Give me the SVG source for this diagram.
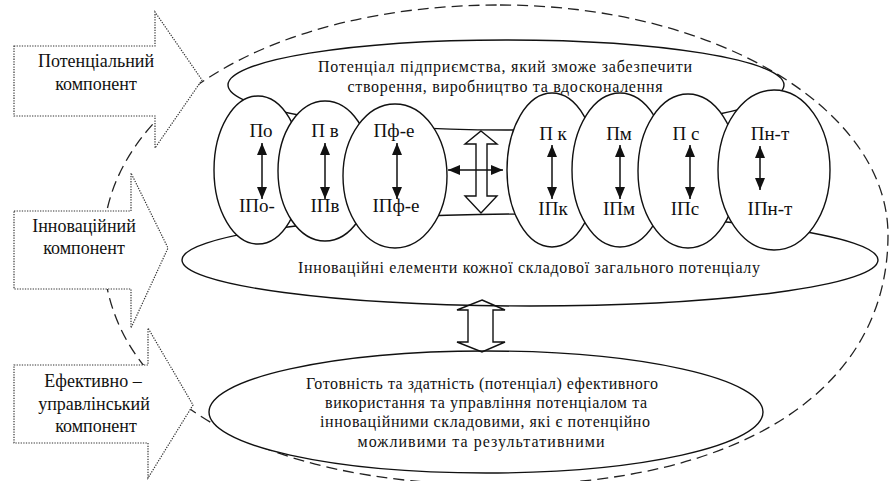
<svg xmlns="http://www.w3.org/2000/svg" width="889" height="481" viewBox="0 0 889 481">
  <defs>
    <style>
      .dash{fill:none;stroke:#222;stroke-width:1.3;stroke-dasharray:11 6}
      .solid{fill:#fff;stroke:#111;stroke-width:1.4}
      .dot{fill:#fff;stroke:#333;stroke-width:1.2;stroke-dasharray:1.3 1.3}
      text{font-family:'Liberation Serif','DejaVu Serif','Times New Roman',serif;fill:#111;text-anchor:middle}
      .lbl{font-size:19px}
      .arr{font-size:18px}
      .body{font-size:16px}
      .ln{stroke:#111;stroke-width:1.5;fill:none}
      .blk{fill:none;stroke:#111;stroke-width:1.4;stroke-linejoin:miter}
    </style>
    <marker id="ah" viewBox="0 0 12 10" refX="12" refY="5" markerWidth="12" markerHeight="10" markerUnits="userSpaceOnUse" orient="auto-start-reverse">
      <path d="M0,0 L12,5 L0,10 Z" fill="#111"/>
    </marker>
  </defs>

  <g id="outer-boundary">
    <path class="dash" d="M500,5 C714,5 888,108 888,235 C888,390 741,485 500,485 C254,485 103,395 103,247 C103,107 270,5 500,5 Z"/>
  </g>

  <g font-family="Liberation Serif, DejaVu Serif, serif">
  <g id="potential-ellipse">
    <ellipse class="solid" cx="506" cy="85" rx="278" ry="45"/>
    <text class="body" x="505" y="72" textLength="374" lengthAdjust="spacing">Потенціал підприємства, який зможе забезпечити</text>
    <text class="body" x="505" y="92" textLength="315" lengthAdjust="spacing">створення, виробництво та вдосконалення</text>
  </g>

  <g id="innovation-ellipse">
    <ellipse class="solid" cx="530" cy="260" rx="348" ry="46"/>
    <text class="body" x="529" y="273" textLength="462" lengthAdjust="spacing">Інноваційні елементи кожної складової загального потенціалу</text>
  </g>

  <g id="management-ellipse">
    <ellipse class="solid" cx="486" cy="412" rx="277" ry="61"/>
    <text class="body" x="482" y="389" textLength="352" lengthAdjust="spacing">Готовність та здатність (потенціал) ефективного</text>
    <text class="body" x="486" y="408" textLength="322" lengthAdjust="spacing">використання та управління потенціалом та</text>
    <text class="body" x="485" y="427" textLength="330" lengthAdjust="spacing">інноваційними складовими, які є потенційно</text>
    <text class="body" x="481" y="447" textLength="247" lengthAdjust="spacing">можливими та результативними</text>
  </g>

  <g id="e-po">
    <ellipse class="solid" cx="258" cy="170" rx="44" ry="74"/>
    <text class="lbl" x="261" y="137">По</text>
    <text class="lbl" x="257" y="212">ІПо-</text>
  </g>
  <g id="e-pv">
    <ellipse class="solid" cx="325" cy="171" rx="47" ry="70"/>
    <text class="lbl" x="325" y="137">П в</text>
    <text class="lbl" x="325" y="212">ІПв</text>
  </g>
  <g id="e-pfe">
    <ellipse class="solid" cx="395" cy="176" rx="52" ry="72"/>
    <text class="lbl" x="394" y="137">Пф-е</text>
    <text class="lbl" x="396" y="212">ІПф-е</text>
  </g>
  <g id="e-pk">
    <ellipse class="solid" cx="552" cy="170" rx="45" ry="77"/>
    <text class="lbl" x="553" y="140">П к</text>
    <text class="lbl" x="553" y="215">ІПк</text>
  </g>
  <g id="e-pm">
    <ellipse class="solid" cx="620" cy="170" rx="48" ry="77"/>
    <text class="lbl" x="619" y="140">Пм</text>
    <text class="lbl" x="619" y="215">ІПм</text>
  </g>
  <g id="e-ps">
    <ellipse class="solid" cx="688" cy="171" rx="50" ry="77"/>
    <text class="lbl" x="686" y="140">П с</text>
    <text class="lbl" x="685" y="215">ІПс</text>
  </g>
  <g id="e-pnt">
    <ellipse class="solid" cx="774" cy="170" rx="56" ry="80"/>
    <text class="lbl" x="770" y="140">Пн-т</text>
    <text class="lbl" x="770" y="215">ІПн-т</text>
  </g>

  <g id="arrow-potential">
    <path class="dot" d="M14,46 H155 V12 L202,80 L155,148 V116 H14 Z"/>
    <text class="arr" x="96" y="67">Потенціальний</text>
    <text class="arr" x="96" y="90">компонент</text>
  </g>
  <g id="arrow-innovative">
    <path class="dot" d="M14,211 H131 V173 L168,248 L131,328 V289 H14 Z"/>
    <text class="arr" x="84" y="232">Інноваційний</text>
    <text class="arr" x="84" y="254">компонент</text>
  </g>
  <g id="arrow-management">
    <path class="dot" d="M14,365 H148 V328 L193,405 L148,478 V443 H14 Z"/>
    <text class="arr" x="93" y="387">Ефективно –</text>
    <text class="arr" x="94" y="410">управлінський</text>
    <text class="arr" x="96" y="432">компонент</text>
  </g>
  </g>

  <g id="connectors">
    <path class="blk" d="M481,131 L497,144 L487,144 L487,196 L497,196 L481,213 L465,196 L476,196 L476,144 L465,144 Z"/>
    <path class="blk" d="M482,300 L505,310 L493,310 L493,342 L505,342 L482,352 L457,342 L468,342 L468,310 L457,310 Z"/>
    <line class="ln" x1="448" y1="170" x2="503" y2="170" marker-start="url(#ah)" marker-end="url(#ah)"/>
    <line class="ln" x1="262" y1="143" x2="262" y2="199" marker-start="url(#ah)" marker-end="url(#ah)"/>
    <line class="ln" x1="325" y1="143" x2="325" y2="199" marker-start="url(#ah)" marker-end="url(#ah)"/>
    <line class="ln" x1="397" y1="143" x2="397" y2="199" marker-start="url(#ah)" marker-end="url(#ah)"/>
    <line class="ln" x1="552" y1="145" x2="552" y2="199" marker-start="url(#ah)" marker-end="url(#ah)"/>
    <line class="ln" x1="620" y1="145" x2="620" y2="199" marker-start="url(#ah)" marker-end="url(#ah)"/>
    <line class="ln" x1="690" y1="145" x2="690" y2="199" marker-start="url(#ah)" marker-end="url(#ah)"/>
    <line class="ln" x1="760" y1="146" x2="760" y2="190" marker-start="url(#ah)" marker-end="url(#ah)"/>
  </g>
</svg>
